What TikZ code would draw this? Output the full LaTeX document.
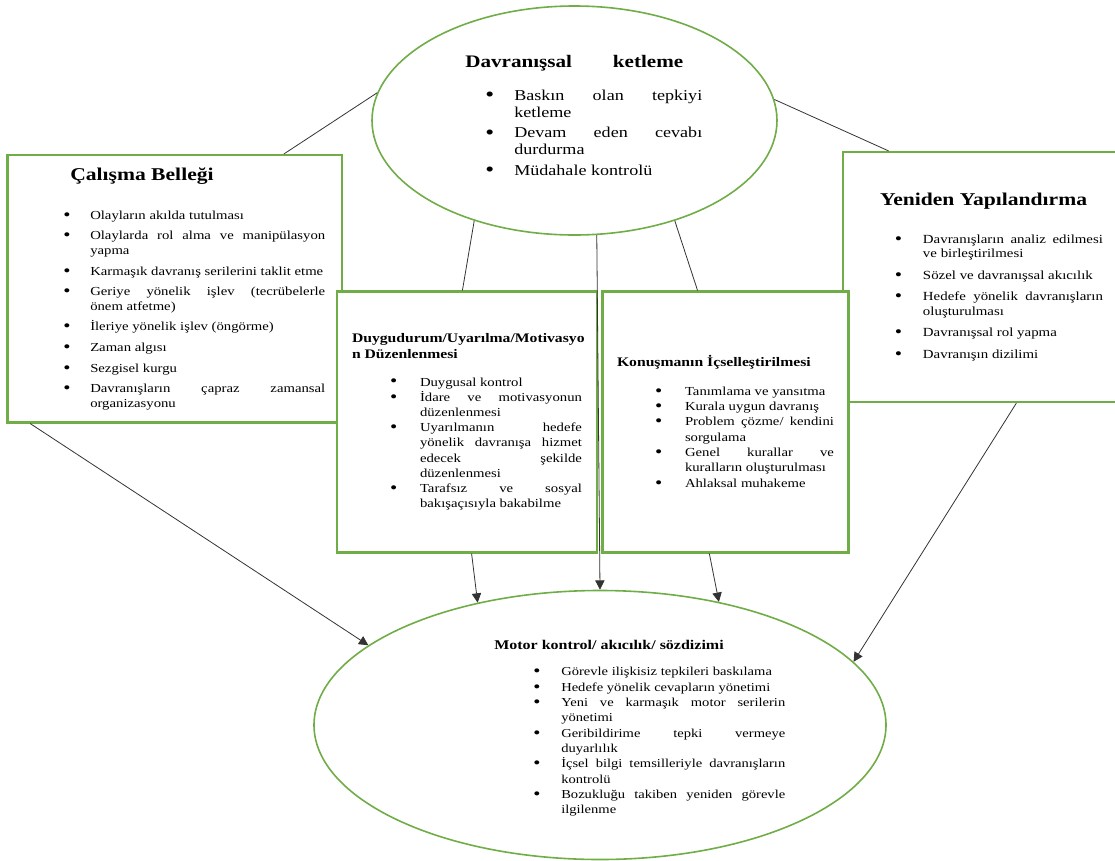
\documentclass[tikz,border=0pt]{standalone}
\usepackage{fontspec}
\setmainfont{Liberation Serif}[FakeStretch=1.2]
\usetikzlibrary{shapes.geometric,arrows.meta}

\definecolor{boxgreen}{RGB}{112,173,71}

% bullet lines: bullet position, hanging indent, gap before each item
\newlength\bulpos \newlength\bulind \newlength\bulgap
\newcommand\bulset[3]{\setlength\bulpos{#1}\setlength\bulind{#2}\setlength\bulgap{#3}}
\newcommand\bitem[1]{\par\vspace{\bulgap}\hangindent=\bulind\hangafter=1\noindent\makebox[\bulind][l]{\hspace*{\bulpos}\raisebox{-0.08em}{\scalebox{1.4}{\textbullet}}}#1\par}

\hyphenpenalty=10000 \exhyphenpenalty=10000 \tolerance=10000 \hbadness=10000

\begin{document}
\begin{tikzpicture}[x=0.75pt,y=-0.75pt,>={Triangle[length=7pt,width=7pt]},
	panel/.style={rectangle, draw=boxgreen, line width=1.6pt, fill=white, align=justify, inner ysep=0pt},
	oval/.style={ellipse, draw=boxgreen, line width=1.2pt, fill=white, inner sep=0pt},
	txt/.style={anchor=north west, align=justify, inner sep=0pt},
	link/.style={draw=black!80, line width=0.6pt}
	]
	\useasboundingbox (0,0) rectangle (1115,861);

	\node[oval, minimum width=303.75pt, minimum height=171.75pt] (ketleme) at (574.5,120.5) {};
	\node[txt, text width=177.75pt] (ketlemeyazi) at (465,54.7) {%
		\fontsize{11.3}{12.6}\selectfont\bulset{15pt}{36.75pt}{2.8pt}%
		\noindent\makebox[163.5pt][s]{\fontsize{13.2}{15}\bfseries\selectfont Davranışsal ketleme}\par
		\vspace{9.6pt}
		\bitem{Baskın olan tepkiyi\linebreak ketleme}
		\bitem{Devam eden cevabı\linebreak durdurma}
		\bitem{Müdahale kontrolü}};

	\node[panel, minimum width=250.9pt, minimum height=200.6pt, text width=225.75pt] (bellek) at (174.75,288.75) {%
		\fontsize{9.2}{10.9}\selectfont\bulset{29.25pt}{49.5pt}{4.6pt}%
		\noindent\hspace*{34.5pt}{\fontsize{13.5}{15}\bfseries\selectfont Çalışma Belleği}\par
		\vspace{13.9pt}
		\bitem{Olayların akılda tutulması}
		\bitem{Olaylarda rol alma ve manipülasyon\linebreak yapma}
		\bitem{Karmaşık davranış serilerini taklit etme}
		\bitem{Geriye yönelik işlev (tecrübelerle\linebreak önem atfetme)}
		\bitem{İleriye yönelik işlev (öngörme)}
		\bitem{Zaman algısı}
		\bitem{Sezgisel kurgu}
		\bitem{Davranışların çapraz zamansal\linebreak organizasyonu}};

	\node[panel, minimum width=205.9pt, minimum height=187.5pt, text width=184.1pt] (yeniden) at (980.25,277) {%
		\fontsize{9.3}{10.8}\selectfont\bulset{28.1pt}{49.1pt}{5.3pt}%
		\noindent\hspace*{16.9pt}{\fontsize{13.5}{15}\bfseries\selectfont Yeniden Yapılandırma}\par
		\vspace{12.1pt}
		\bitem{Davranışların analiz edilmesi\linebreak ve birleştirilmesi}
		\bitem{Sözel ve davranışsal akıcılık}
		\bitem{Hedefe yönelik davranışların\linebreak oluşturulması}
		\bitem{Davranışsal rol yapma}
		\bitem{Davranışın dizilimi}};

	\node[panel, minimum width=195pt, minimum height=195.75pt, text width=172.5pt] (duygu) at (467,422) {%
		\fontsize{9.2}{11.4}\selectfont\bulset{28.5pt}{51pt}{0pt}%
		{\fontsize{9.8}{11.8}\bfseries\selectfont\noindent\rlap{Duygudurum/Uyarılma/Motivasyo}\par
		\noindent n Düzenlenmesi\par}
		\vspace{9.2pt}
		\bitem{Duygusal kontrol}
		\bitem{İdare ve motivasyonun\linebreak düzenlenmesi}
		\bitem{Uyarılmanın hedefe\linebreak yönelik davranışa hizmet\linebreak edecek şekilde\linebreak düzenlenmesi}
		\bitem{Tarafsız ve sosyal\linebreak bakışaçısıyla bakabilme}};

	\node[panel, minimum width=184.5pt, minimum height=195.75pt, text width=162.75pt] (konusma) at (725.5,422) {%
		\fontsize{9.2}{11.5}\selectfont\bulset{28.5pt}{51pt}{0pt}%
		\noindent{\fontsize{9.8}{11.8}\bfseries\selectfont Konuşmanın İçselleştirilmesi}\par
		\vspace{9.7pt}
		\bitem{Tanımlama ve yansıtma}
		\bitem{Kurala uygun davranış}
		\bitem{Problem çözme/ kendini\linebreak sorgulama}
		\bitem{Genel kurallar ve\linebreak kuralların oluşturulması}
		\bitem{Ahlaksal muhakeme}};

	\node[oval, minimum width=429pt, minimum height=201.75pt] (motor) at (600,725) {};
	\node[txt, text width=218.25pt] (motoryazi) at (494,639.7) {%
		\fontsize{9.1}{11.5}\selectfont\bulset{29.25pt}{50.25pt}{0pt}%
		\noindent{\fontsize{10}{12}\bfseries\selectfont Motor kontrol/ akıcılık/ sözdizimi}\par
		\vspace{8.5pt}
		\bitem{Görevle ilişkisiz tepkileri baskılama}
		\bitem{Hedefe yönelik cevapların yönetimi}
		\bitem{Yeni ve karmaşık motor serilerin\linebreak yönetimi}
		\bitem{Geribildirime tepki vermeye\linebreak duyarlılık}
		\bitem{İçsel bilgi temsilleriyle davranışların\linebreak kontrolü}
		\bitem{Bozukluğu takiben yeniden görevle\linebreak ilgilenme}};

	\draw[link] (ketleme.172.2) -- (bellek.51.8);
	\draw[link] (ketleme.6.75) -- (yeniden.126.4);
	\draw[link] (ketleme.225.85) -- (duygu.92.2);
	\draw[link] (ketleme.315.3) -- (konusma.102.3);
	\draw[link,->] (ketleme.281.6) -- (motor.90);
	\draw[link,->] (duygu.272.6) -- (motor.135.2);
	\draw[link,->] (konusma.263.7) -- (motor.46.7);
	\draw[link,->] (bellek.223.7) -- (motor.161.9);
	\draw[link,->] (yeniden.286.8) -- (motor.14.1);
\end{tikzpicture}
\end{document}
